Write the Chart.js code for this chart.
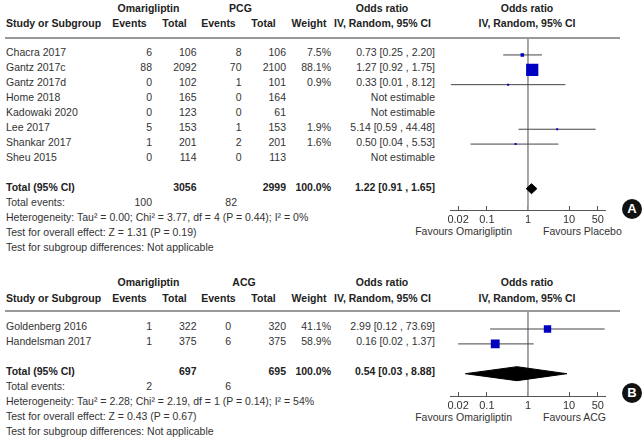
<!DOCTYPE html>
<html>
<head>
<meta charset="utf-8">
<script src="https://cdn.jsdelivr.net/npm/chart.js@4.4.0/dist/chart.umd.min.js"></script>
<style>
    body { margin: 0; background: #fff; }
    #page { position: relative; width: 644px; height: 441px; overflow: hidden;
            font-family: 'Liberation Sans', Arial, sans-serif; font-size: 10.5px; color: #333; }
    .t { position: absolute; height: 14px; line-height: 14px; white-space: nowrap; }
    .b { font-weight: bold; color: #222; }
    canvas { position: absolute; }
    .rule { position: absolute; height: 2px; background: #999; }
    .badge { position: absolute; width: 20px; height: 20px; border-radius: 50%; background: #111;
             color: #fff; font-weight: bold; font-size: 13px; line-height: 20px; text-align: center; }
</style>
</head>
<body>
<div id="page"></div>
<script>
// Panel A: omarigliptin vs placebo / conventional glucose-lowering (PCG)
const studiesA = ['Chacra 2017', 'Gantz 2017c', 'Gantz 2017d', 'Home 2018', 'Kadowaki 2020', 'Lee 2017', 'Shankar 2017', 'Sheu 2015'];
const omaEventsA = [6, 88, 0, 0, 0, 5, 1, 0];
const omaTotalA = [106, 2092, 102, 165, 123, 153, 201, 114];
const pcgEventsA = [8, 70, 1, 0, 0, 1, 2, 0];
const pcgTotalA = [106, 2100, 101, 164, 61, 153, 201, 113];
const weightA = [7.5, 88.1, 0.9, null, null, 1.9, 1.6, null];
const orA = [0.73, 1.27, 0.33, null, null, 5.14, 0.50, null];
const loA = [0.25, 0.92, 0.01, null, null, 0.59, 0.04, null];
const hiA = [2.20, 1.75, 8.12, null, null, 44.48, 5.53, null];
const pooledA = [1.22, 0.91, 1.65];
const totalsA = [3056, 2999];
const totalEventsA = [100, 82];
const statsA = [
    'Heterogeneity: Tau\u00b2 = 0.00; Chi\u00b2 = 3.77, df = 4 (P = 0.44); I\u00b2 = 0%',
    'Test for overall effect: Z = 1.31 (P = 0.19)',
    'Test for subgroup differences: Not applicable'
];

// Panel B: omarigliptin vs active comparator (ACG)
const studiesB = ['Goldenberg 2016', 'Handelsman 2017'];
const omaEventsB = [1, 1];
const omaTotalB = [322, 375];
const acgEventsB = [0, 6];
const acgTotalB = [320, 375];
const weightB = [41.1, 58.9];
const orB = [2.99, 0.16];
const loB = [0.12, 0.02];
const hiB = [73.69, 1.37];
const pooledB = [0.54, 0.03, 8.88];
const totalsB = [697, 695];
const totalEventsB = [2, 6];
const statsB = [
    'Heterogeneity: Tau\u00b2 = 2.28; Chi\u00b2 = 2.19, df = 1 (P = 0.14); I\u00b2 = 54%',
    'Test for overall effect: Z = 0.43 (P = 0.67)',
    'Test for subgroup differences: Not applicable'
];

// log axis
const xTicks = [0.02, 0.1, 1, 10, 50];
const xRange = [0.0133, 75];

const FONT = "'Liberation Sans', Arial, sans-serif";
const page = document.getElementById('page');

function txt(x, y, s, align, bold) {
    const d = document.createElement('div');
    d.className = 't' + (bold ? ' b' : '');
    d.textContent = s;
    d.style.top = (y - 7) + 'px';
    if (align === 'right') {
        d.style.right = (644 - x) + 'px';
    } else if (align === 'center') {
        d.style.left = (x - 100) + 'px';
        d.style.width = '200px';
        d.style.textAlign = 'center';
    } else {
        d.style.left = x + 'px';
    }
    page.appendChild(d);
}

const fmtCI = (o, l, h) => `${o.toFixed(2)} [${l.toFixed(2)} , ${h.toFixed(2)}]`;

function drawPanel(p) {
    // header
    txt(148.5, p.head1Y, 'Omarigliptin', 'center', true);
    txt(p.group2X, p.head1Y, p.group2, 'center', true);
    txt(382, p.head1Y, 'Odds ratio', 'center', true);
    txt(527, p.head1Y, 'Odds ratio', 'center', true);
    txt(6, p.head2Y, 'Study or Subgroup', 'left', true);
    txt(129.5, p.head2Y, 'Events', 'center', true);
    txt(174.5, p.head2Y, 'Total', 'center', true);
    txt(218.5, p.head2Y, 'Events', 'center', true);
    txt(263.5, p.head2Y, 'Total', 'center', true);
    txt(309, p.head2Y, 'Weight', 'center', true);
    txt(382.5, p.head2Y, 'IV, Random, 95% CI', 'center', true);
    txt(527, p.head2Y, 'IV, Random, 95% CI', 'center', true);

    const rule = document.createElement('div');
    rule.className = 'rule';
    rule.style.left = '5px';
    rule.style.width = '615px';
    rule.style.top = (p.lineY - 1) + 'px';
    page.appendChild(rule);

    // study rows
    p.studies.forEach((s, i) => {
        const y = p.row0 + i * 15;
        txt(6, y, s, 'left');
        txt(152, y, String(p.ev1[i]), 'right');
        txt(196.5, y, String(p.tot1[i]), 'right');
        txt(p.ev2X, y, String(p.ev2[i]), 'right');
        txt(286, y, String(p.tot2[i]), 'right');
        if (p.weight[i] != null) {
            txt(331, y, p.weight[i].toFixed(1) + '%', 'right');
            txt(435, y, fmtCI(p.or[i], p.lo[i], p.hi[i]), 'right');
        } else {
            txt(435, y, 'Not estimable', 'right');
        }
    });

    // totals
    const ty = p.row0 + (p.studies.length + 1) * 15;
    txt(6, ty, 'Total (95% CI)', 'left', true);
    txt(196.5, ty, String(p.totals[0]), 'right', true);
    txt(286, ty, String(p.totals[1]), 'right', true);
    txt(331, ty, '100.0%', 'right', true);
    txt(435, ty, fmtCI(p.pooled[0], p.pooled[1], p.pooled[2]), 'right', true);
    txt(6, ty + 15, 'Total events:', 'left');
    txt(152, ty + 15, String(p.totalEvents[0]), 'right');
    txt(p.totEv2X, ty + 15, String(p.totalEvents[1]), 'right');
    p.stats.forEach((s, k) => txt(6, ty + 30 + k * 15, s, 'left'));

    txt(512, p.favY, p.favours[0], 'right');
    txt(543, p.favY, p.favours[1], 'left');

    const badge = document.createElement('div');
    badge.className = 'badge';
    badge.textContent = p.badge;
    badge.style.left = '622px';
    badge.style.top = (p.badgeY - 10) + 'px';
    page.appendChild(badge);

    // forest plot
    const step = 14.9;
    const canvas = document.createElement('canvas');
    const cTop = p.lineY - 30;
    const cHeight = p.axisY - cTop + 30;
    canvas.width = 180;
    canvas.height = cHeight;
    canvas.style.left = '440px';
    canvas.style.top = cTop + 'px';
    page.appendChild(canvas);

    const yMin = (p.lineY - p.mark0) / step;
    const yMax = (p.axisY - p.mark0) / step;
    const pooledRow = p.studies.length + 1;

    const squares = [];
    const radii = [];
    const datasets = [];
    p.or.forEach((v, i) => {
        if (v == null) return;
        squares.push({ x: v, y: i });
        radii.push(Math.max(2, p.sqK * Math.sqrt(p.weight[i])) / Math.SQRT2);
        datasets.push({
            data: [{ x: p.lo[i], y: i }, { x: p.hi[i], y: i }],
            showLine: true, pointRadius: 0, borderColor: '#444', borderWidth: 1, order: 2
        });
    });
    datasets.push({
        data: squares, pointStyle: 'rect', pointRadius: radii,
        backgroundColor: '#0000c0', borderWidth: 0, showLine: false, order: 0
    });
    const h = p.diamondH / step;
    datasets.push({
        data: [
            { x: p.pooled[1], y: pooledRow },
            { x: p.pooled[0], y: pooledRow - h },
            { x: p.pooled[2], y: pooledRow },
            { x: p.pooled[0], y: pooledRow + h },
            { x: p.pooled[1], y: pooledRow }
        ],
        showLine: true, fill: 'shape', pointRadius: 0,
        borderColor: '#000', backgroundColor: '#000', borderWidth: 1, order: 1
    });
    datasets.push({
        data: [{ x: 1, y: yMin }, { x: 1, y: yMax }],
        showLine: true, pointRadius: 0, borderColor: '#999', borderWidth: 1, order: 3
    });

    new Chart(canvas, {
        type: 'scatter',
        data: { datasets },
        options: {
            responsive: false,
            animation: false,
            events: [],
            layout: { padding: { top: 30, bottom: 10, left: 9, right: 15 } },
            plugins: { legend: { display: false }, tooltip: { enabled: false } },
            elements: { line: { tension: 0 } },
            scales: {
                x: {
                    type: 'logarithmic',
                    position: 'bottom',
                    bounds: 'data',
                    min: xRange[0],
                    max: xRange[1],
                    afterBuildTicks: s => { s.ticks = xTicks.map(v => ({ value: v })); },
                    afterFit: s => { s.height = 20; },
                    ticks: {
                        autoSkip: false, maxRotation: 0, padding: 7, color: '#333',
                        font: { family: FONT, size: 11 },
                        callback: v => String(v)
                    },
                    grid: { drawOnChartArea: false, drawTicks: true, tickLength: -4, color: '#555' },
                    border: { display: true, color: '#555', width: 1 }
                },
                y: { type: 'linear', reverse: true, min: yMin, max: yMax, display: false }
            }
        }
    });
}

drawPanel({
    studies: studiesA, ev1: omaEventsA, tot1: omaTotalA, ev2: pcgEventsA, tot2: pcgTotalA,
    weight: weightA, or: orA, lo: loA, hi: hiA, pooled: pooledA,
    totals: totalsA, totalEvents: totalEventsA, stats: statsA,
    group2: 'PCG', favours: ['Favours Omarigliptin', 'Favours Placebo'], badge: 'A',
    head1Y: 7.5, head2Y: 23.3, lineY: 38, row0: 52.3, mark0: 55, axisY: 210.5,
    favY: 231, badgeY: 209, group2X: 240.5, ev2X: 241.5, totEv2X: 237, sqK: 1.3, diamondH: 5
});

drawPanel({
    studies: studiesB, ev1: omaEventsB, tot1: omaTotalB, ev2: acgEventsB, tot2: acgTotalB,
    weight: weightB, or: orB, lo: loB, hi: hiB, pooled: pooledB,
    totals: totalsB, totalEvents: totalEventsB, stats: statsB,
    group2: 'ACG', favours: ['Favours Omarigliptin', 'Favours ACG'], badge: 'B',
    head1Y: 282, head2Y: 298.3, lineY: 311, row0: 326, mark0: 329, axisY: 396,
    favY: 416.7, badgeY: 393, group2X: 244, ev2X: 231, totEv2X: 231, sqK: 1.15, diamondH: 7
});
</script>
</body>
</html>
